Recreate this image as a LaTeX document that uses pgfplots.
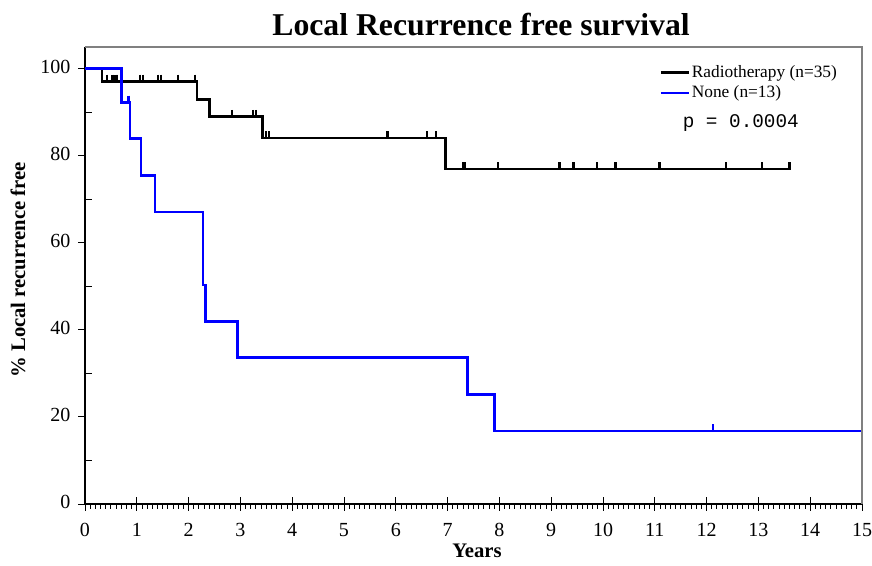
\documentclass[border=0pt]{standalone}
\usepackage{fontspec}
\setmainfont{Liberation Serif}
\newfontfamily\monofont{Liberation Mono}
\usepackage{pgfplots}
\pgfplotsset{compat=1.18}
\definecolor{KMBlue}{RGB}{0,0,255}

% Kaplan-Meier steps (years, % free)
\pgfplotstableread{
x y
0 100
0.33 97.14
2.16 93.0
2.40 89.0
3.43 84.1
6.96 77.0
13.62 77.0
}\radio
\pgfplotstableread{
x y
0 100
0.70 92.3
0.87 83.9
1.08 75.5
1.35 67.1
2.28 50.3
2.32 41.9
2.94 33.6
7.39 25.2
7.90 16.8
15 16.8
}\none
% censored observations
\pgfplotstableread{
x y
0.42 97.14
0.53 97.14
0.59 97.14
0.62 97.14
1.06 97.14
1.12 97.14
1.41 97.14
1.47 97.14
1.80 97.14
2.12 97.14
2.83 89.0
3.25 89.0
3.30 89.0
3.49 84.1
3.55 84.1
5.84 84.1
6.61 84.1
6.78 84.1
7.29 77.0
7.33 77.0
7.97 77.0
9.16 77.0
9.43 77.0
9.89 77.0
10.24 77.0
11.09 77.0
12.37 77.0
13.07 77.0
13.60 77.0
}\radiocens
\pgfplotstableread{
x y
0.84 92.3
12.13 16.8
}\nonecens

\begin{document}
\begin{tikzpicture}
\useasboundingbox (-63.75pt,-46.5pt) rectangle (590.25pt,378pt);
\begin{axis}[
  at={(0pt,0pt)}, anchor=south west,
  width=582.75pt, height=342.75pt, scale only axis,
  xmin=0, xmax=15, ymin=0, ymax=105,
  axis x line*=bottom, axis y line*=left,
  axis line style={line width=1.1pt, black},
  xtick={0,1,...,15}, ytick={0,20,...,100},
  minor x tick num=9,
  tick align=outside,
  major tick length=5pt, minor tick length=3.5pt,
  every tick/.style={black, line width=0.7pt},
  extra x ticks={0,1,...,15},
  extra x tick labels={},
  extra x tick style={tick align=inside},
  extra y ticks={0,10,30,50,70,90},
  extra y tick labels={},
  extra y tick style={tick align=inside},
  /pgf/number format/assume math mode=true,
  typeset ticklabels with strut,
  tick label style={font=\fontsize{15}{17}\selectfont},
  xticklabel style={yshift=-4pt},
  yticklabel style={xshift=-2.5pt},
  title={\bfseries Local Recurrence free survival},
  title style={font=\fontsize{23.8}{27}\selectfont, at={(axis description cs:0.5097,1.031)}, anchor=center},
  xlabel={\bfseries Years},
  xlabel style={font=\fontsize{15.5}{17}\selectfont, at={(axis description cs:0.5045,-0.103)}, anchor=center},
  ylabel={\bfseries \% Local recurrence free},
  ylabel style={font=\fontsize{15.5}{17}\selectfont, at={(axis description cs:-0.0862,0.512)}, anchor=center},
  legend style={at={(axis description cs:0.739,0.964)}, anchor=north west, draw=none, fill=none,
    font=\fontsize{13}{15}\selectfont, row sep=2.2pt, column sep=0pt, inner sep=0pt,
    nodes={inner sep=1.3pt}},
  legend cell align=left,
  legend image code/.code={\draw[#1, line width=2pt] (0pt,0pt) -- (21pt,0pt);},
  clip=false,
]
\addplot[const plot, black, line width=2pt] table {\radio};
\addlegendentry{Radiotherapy (n=35)}
\addplot[const plot, KMBlue, line width=2pt] table {\none};
\addlegendentry{None (n=13)}
\addplot[only marks, mark=|, mark size=2.6pt, black, mark options={line width=1.6pt, yshift=2.4pt}, forget plot] table {\radiocens};
\addplot[only marks, mark=|, mark size=2.6pt, KMBlue, mark options={line width=1.6pt, yshift=2.4pt}, forget plot] table {\nonecens};
\draw[gray, line width=0.8pt] (rel axis cs:0,1) -- (rel axis cs:1,1) -- (rel axis cs:1,0);
\node[font=\monofont\fontsize{14.5}{16}\selectfont, anchor=center] at (rel axis cs:0.844,0.834) {p = 0.0004};
\end{axis}
\end{tikzpicture}
\end{document}
